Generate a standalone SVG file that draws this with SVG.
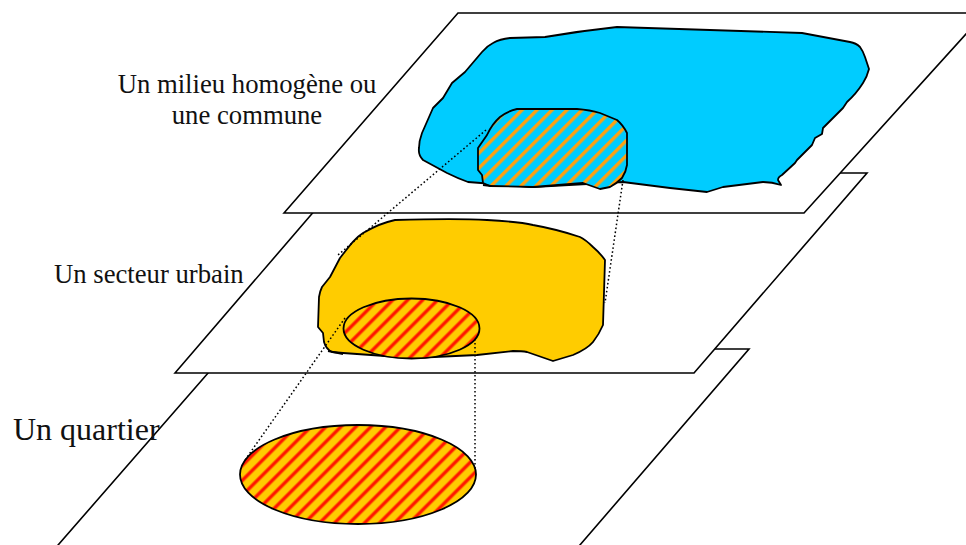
<svg xmlns="http://www.w3.org/2000/svg" width="966" height="545" viewBox="0 0 966 545">
<style>
.plane{fill:#fff;stroke:#000;stroke-width:1.6;stroke-linejoin:miter}
.shape{stroke:#000;stroke-width:1.8;stroke-linejoin:round}
.dot{fill:none;stroke:#000;stroke-width:1.5;stroke-dasharray:1.6 2.4}
.tail{fill:none;stroke:#000;stroke-width:1.8}
.t{font-family:"Liberation Serif","Times New Roman",serif;fill:#111}
</style>
<defs>
<pattern id="ho" width="10.6" height="10.6" patternUnits="userSpaceOnUse" patternTransform="rotate(45)"><rect width="10.6" height="10.6" fill="#00ccff"/><rect x="0" width="3.4" height="10.6" fill="#ffa010"/></pattern>
<pattern id="hr" width="10.6" height="10.6" patternUnits="userSpaceOnUse" patternTransform="rotate(45)"><rect width="10.6" height="10.6" fill="#ffcc00"/><rect x="0" width="4.4" height="10.6" fill="#ff8800"/><rect x="0.8" width="2.8" height="10.6" fill="#ff1500"/></pattern>
</defs>
<g id="plane-quartier"><path class="plane" d="M45 560L229 349H749L567 560Z"/></g>
<g id="ellipse-quartier"><ellipse class="shape" cx="358" cy="474.5" rx="118" ry="49.5" fill="url(#hr)"/></g>
<g id="plane-secteur"><path class="plane" d="M175 373L347 173H867L694 373Z"/></g>
<g id="blob-secteur"><path class="shape" fill="#ffcc00" d="M395 220C430 219 470 219 487 220C505 221 520 222 533 225C550 228 565 232 580 237C586 240 590 244 593 247Q600 253 605 260L603 325C600 332 597 337 593 342C588 348 580 352 573 355L553 361L527 352C522 351 518 351 513 351L477 355L413 358L343 353L332 352Q326 349 324 342L323 333L318 327L319 297Q320 291 322 287L330 277L340 258C350 245 355 238 363 233C375 226 385 222 395 220Z"/><path class="tail" d="M328 351L343 354"/></g>
<g id="connectors-lower"><path class="dot" d="M345 318L245 460M475 323V470"/></g>
<g id="ellipse-secteur"><ellipse class="shape" cx="411.5" cy="328.5" rx="68" ry="30" fill="url(#hr)"/></g>
<g id="plane-milieu"><path class="plane" d="M284 213L458 13H985L804 213Z"/></g>
<g id="blob-milieu"><path class="shape" fill="#00ccff" d="M617 27L802 33L850 42Q856 43 860 47Q863 51 865 57L869 69Q867 77 863 83Q856 94 847 102L843 108L823 128L822 134L815 138L812 145L797 160L795 163L782 175Q778 177 778 180L781 185Q772 182 763 182L723 187L707 192L670 188L623 182L533 187L468 182Q457 178 447 173L423 160Q418 155 419 148Q419 141 422 133L433 108L443 98L452 83L465 72L482 52Q487 46 493 43Q500 39 510 38L545 37Q580 31 617 27Z"/></g>
<g id="connectors-upper"><path class="dot" d="M486 130L338 255M623 180L605 303"/></g>
<g id="hatch-milieu"><path class="shape" fill="url(#ho)" d="M517 109H577Q590 110 600 113L617 120Q623 125 627 133V165Q626 172 622 178Q616 184 610 187L600 189L583 183L533 187L490 186L483 183L482 175L478 170V148L487 135Q492 124 500 117Q508 111 517 109Z"/><path class="tail" d="M483 185L491 186"/></g>
<g id="labels">
<text class="t" x="247" y="93" font-size="26.7" text-anchor="middle">Un milieu homogène ou</text>
<text class="t" x="247" y="124" font-size="26.7" text-anchor="middle">une commune</text>
<text class="t" x="54" y="283" font-size="26.7">Un secteur urbain</text>
<text class="t" x="13" y="440" font-size="32">Un quartier</text>
</g>
</svg>
